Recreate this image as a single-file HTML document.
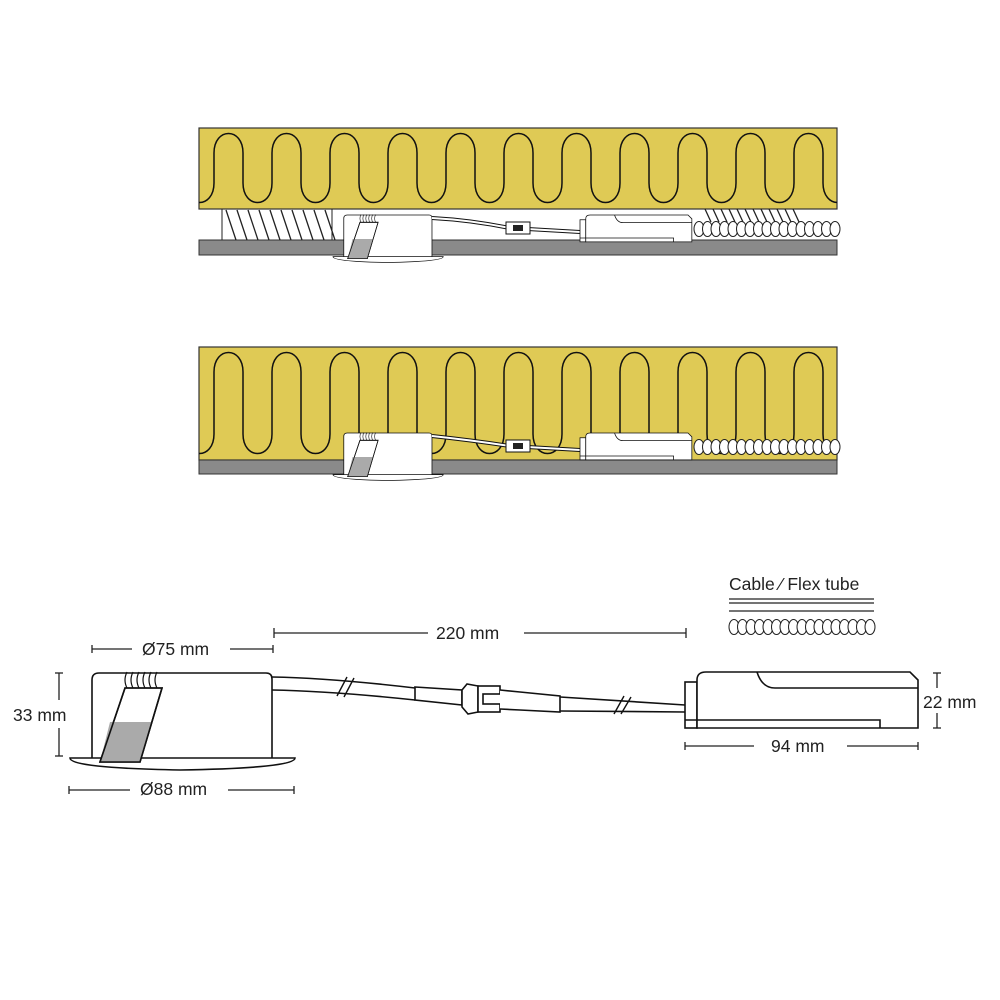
<!DOCTYPE html>
<html><head><meta charset="utf-8"><style>
body{margin:0;background:#fff}
svg{display:block}
text{font-family:"Liberation Sans",sans-serif;font-size:17.5px;fill:#222}
</style></head><body>
<svg id="s" width="1000" height="1000" viewBox="0 0 1000 1000" xmlns="http://www.w3.org/2000/svg">
<defs>
<clipPath id="c1"><rect x="199" y="128" width="638" height="81"/></clipPath>
<clipPath id="c2"><rect x="199" y="347" width="638" height="113"/></clipPath>
<g id="lum" fill="none" stroke="#111" stroke-width="1.6">
 <path d="M92 760 L92 680 Q92 673 99 673 L266 673 Q272 673 272 679 L272 758" fill="#fff"/>
 <path d="M70 758 Q70 768 180 770 Q295 768 295 758 Z" fill="#fff"/>
 <path d="M125 688 L162 688 L140 762 L100 762 Z" fill="#fff"/>
 <path d="M110 722 L152 722 L140 762 L100 762 Z" fill="#aaa" stroke="none"/>
 <path d="M125 688 L162 688 L140 762 L100 762 Z"/>
 <path d="M127 688 q-4 -8 0 -16 M133 688 q-4 -8 0 -16 M139 688 q-4 -8 0 -16 M145 688 q-4 -8 0 -16 M151 688 q-4 -8 0 -16 M157 688 q-4 -8 0 -16" stroke-width="1.2"/>
</g>
<g id="drv" fill="#fff" stroke="#111" stroke-width="1.6">
 <rect x="685" y="682" width="12" height="46"/>
 <path d="M697 728 L697 680 Q697 672 706 672 L910 672 L918 680 L918 728 Z"/>
 <path d="M757 672 Q762 688 775 688 L918 688" fill="none"/>
 <path d="M685 720 L880 720 L880 728" fill="none"/>
</g>
</defs>
<rect x="199" y="128" width="638" height="81" fill="#dfca55" stroke="#333" stroke-width="1.2"/>
<path id="w1" fill="none" stroke="#111" stroke-width="1.5" clip-path="url(#c1)"/>
<rect x="199" y="240" width="638" height="15" fill="#8a8a8a" stroke="#333"/>
<g id="hatch1" stroke="#222" stroke-width="1.3"></g>
<line x1="222" y1="209" x2="222" y2="240" stroke="#222"/><line x1="332" y1="209" x2="332" y2="240" stroke="#222"/>
<g id="flex1" fill="#fff" stroke="#222" stroke-width="1"></g>
<use href="#lum" transform="translate(298.7,-114.8) scale(0.49)"/>
<path d="M432 218 Q470 220 510 228 L580 232" fill="none" stroke="#111" stroke-width="4"/>
<path d="M432 218 Q470 220 510 228 L580 232" fill="none" stroke="#fff" stroke-width="2"/>
<rect x="506" y="222" width="24" height="12" fill="#fff" stroke="#111"/>
<rect x="513" y="225" width="10" height="6" fill="#222"/>
<use href="#drv" transform="translate(251.2,-107.6) scale(0.48)"/>
<rect x="199" y="347" width="638" height="113" fill="#dfca55" stroke="#333" stroke-width="1.2"/>
<path id="w2" fill="none" stroke="#111" stroke-width="1.5" clip-path="url(#c2)"/>
<rect x="199" y="460" width="638" height="14" fill="#8a8a8a" stroke="#333"/>
<g id="flex2" fill="#fff" stroke="#222" stroke-width="1"></g>
<use href="#lum" transform="translate(298.7,103.2) scale(0.49)"/>
<path d="M432 436 Q470 440 510 446 L580 450" fill="none" stroke="#111" stroke-width="4"/>
<path d="M432 436 Q470 440 510 446 L580 450" fill="none" stroke="#fff" stroke-width="2"/>
<rect x="506" y="440" width="24" height="12" fill="#fff" stroke="#111"/>
<rect x="513" y="443" width="10" height="6" fill="#222"/>
<use href="#drv" transform="translate(251.2,110.4) scale(0.48)"/>
<use href="#lum"/>
<g fill="none" stroke="#111" stroke-width="1.6">
 <path d="M272 677 Q330 678 415 688 M272 690 Q330 691 415 700"/>
 <path d="M337 696 L347 677 M344 697 L354 678" stroke-width="1.4"/>
 <path d="M415 687 L462 690 L462 705 L415 700 Z" fill="#fff"/>
 <path d="M462 690 L467 684 L478 686 L478 712 L468 714 L462 707 Z" fill="#fff"/>
 <rect x="478" y="686" width="22" height="26" fill="#fff"/>
 <rect x="483" y="694" width="28" height="10" fill="#fff"/>
 <path d="M500 690 L520 692 L560 696 L560 712 L520 710 L500 709" fill="#fff"/>
 <path d="M560 697 L685 705 M560 711 L685 712"/>
 <path d="M614 714 L624 696 M621 714 L631 697" stroke-width="1.4"/>
</g>
<use href="#drv"/>
<text x="729" y="590">Cable ⁄ Flex tube</text>
<g stroke="#222" stroke-width="1.3"><line x1="729" y1="599" x2="874" y2="599"/><line x1="729" y1="603" x2="874" y2="603"/><line x1="729" y1="611" x2="874" y2="611"/></g>
<g id="flex3" fill="#fff" stroke="#222" stroke-width="1"></g>
<g stroke="#222" stroke-width="1.3">
 <line x1="274" y1="633" x2="428" y2="633"/><line x1="524" y1="633" x2="686" y2="633"/><line x1="274" y1="628" x2="274" y2="638"/><line x1="686" y1="628" x2="686" y2="638"/>
 <line x1="92" y1="649" x2="132" y2="649"/><line x1="230" y1="649" x2="273" y2="649"/><line x1="92" y1="645" x2="92" y2="653"/><line x1="273" y1="645" x2="273" y2="653"/>
 <line x1="69" y1="790" x2="130" y2="790"/><line x1="228" y1="790" x2="294" y2="790"/><line x1="69" y1="786" x2="69" y2="794"/><line x1="294" y1="786" x2="294" y2="794"/>
 <line x1="59" y1="673" x2="59" y2="700"/><line x1="59" y1="728" x2="59" y2="756"/><line x1="55" y1="673" x2="63" y2="673"/><line x1="55" y1="756" x2="63" y2="756"/>
 <line x1="937" y1="673" x2="937" y2="688"/><line x1="937" y1="713" x2="937" y2="728"/><line x1="933" y1="673" x2="941" y2="673"/><line x1="933" y1="728" x2="941" y2="728"/>
 <line x1="685" y1="746" x2="754" y2="746"/><line x1="847" y1="746" x2="918" y2="746"/><line x1="685" y1="742" x2="685" y2="750"/><line x1="918" y1="742" x2="918" y2="750"/>
</g>
<text x="436" y="639">220 mm</text>
<text x="142" y="655">Ø75 mm</text>
<text x="140" y="795">Ø88 mm</text>
<text x="13" y="721">33 mm</text>
<text x="923" y="708">22 mm</text>
<text x="771" y="752">94 mm</text>
</svg>
<script>
function wave(top,bot){var x=185;var h=24;
 var d="M"+x+" "+(bot-h);
 for(var i=0;i<12;i++){
  d+=" C"+x+" "+(bot+2)+" "+(x+29)+" "+(bot+2)+" "+(x+29)+" "+(bot-h);
  x+=29; d+=" L"+x+" "+(top+h);
  d+=" C"+x+" "+(top-2)+" "+(x+29)+" "+(top-2)+" "+(x+29)+" "+(top+h);
  x+=29; d+=" L"+x+" "+(bot-h);
 }return d;}
document.getElementById("w1").setAttribute("d",wave(129,207));
document.getElementById("w2").setAttribute("d",wave(348,458));
var ns="http://www.w3.org/2000/svg";
function el(p,t,a){var e=document.createElementNS(ns,t);for(var k in a)e.setAttribute(k,a[k]);p.appendChild(e);}
var h=document.getElementById("hatch1");
for(var x=226;x<330;x+=11)el(h,"line",{x1:x,y1:210,x2:x+10,y2:240});
for(var x=705;x<800;x+=8)el(h,"line",{x1:x,y1:209,x2:x+6,y2:222});
function flex(id,x0,x1,y,r){var g=document.getElementById(id);for(var x=x0;x<x1;x+=8.5)el(g,"ellipse",{cx:x,cy:y,rx:5,ry:r});}
flex("flex1",699,838,229,7.5);
flex("flex2",699,838,447,7.5);
flex("flex3",734,873,627,7.5);
</script>
</body></html>
